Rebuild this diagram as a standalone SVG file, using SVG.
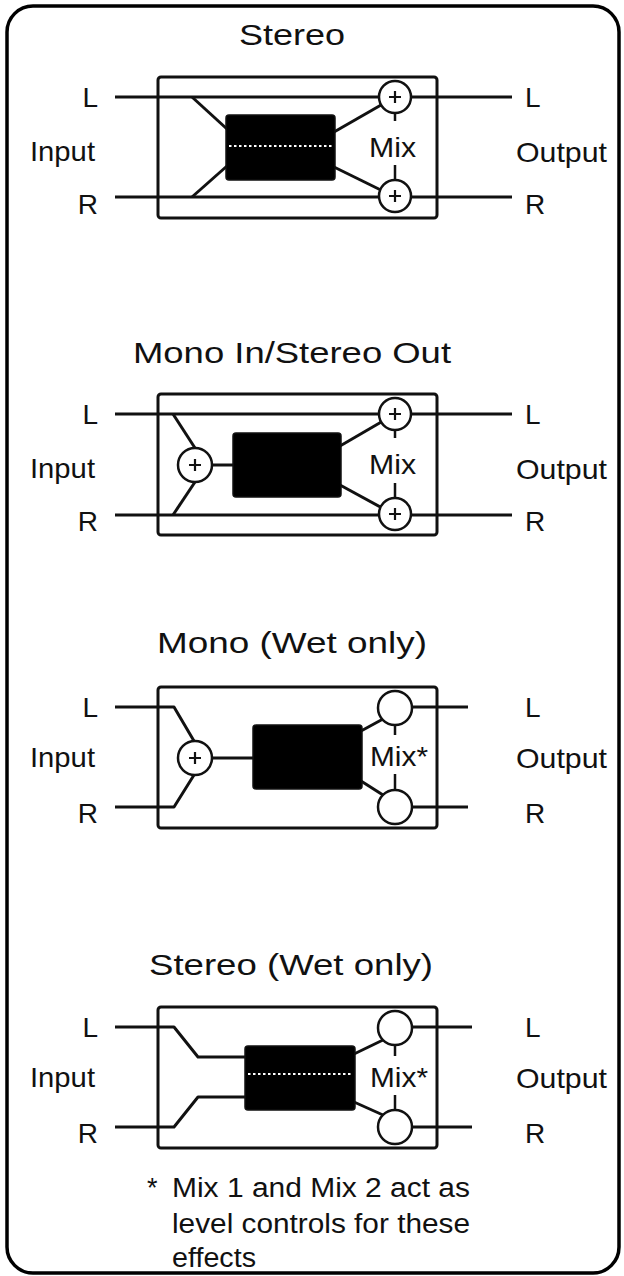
<svg xmlns="http://www.w3.org/2000/svg" width="624" height="1276" viewBox="0 0 624 1276">
<defs>
<style>
text{font-family:"Liberation Sans",Arial,Helvetica,sans-serif;fill:#111}
.ttl{font-size:30px;text-anchor:middle}
.lbl{font-size:28px}
.end{text-anchor:end}
.fn{font-size:27px}
.ln{fill:none;stroke:#111;stroke-width:3;stroke-linejoin:round}
.frame{fill:none;stroke:#111;stroke-width:3}
.blk{fill:#000;stroke:#111;stroke-width:1.5}
.dots{fill:none;stroke:#fff;stroke-width:2;stroke-dasharray:2.5 2.5}
.cir{fill:#fff;stroke:#111;stroke-width:2.5}
.pl{fill:none;stroke:#111;stroke-width:2.2}
.tick{fill:none;stroke:#111;stroke-width:2.5}
</style>
</defs>
<rect x="0" y="0" width="624" height="1276" fill="#fff"/>
<rect id="border" x="7" y="6" width="612" height="1267" rx="26" fill="none" stroke="#000" stroke-width="3.5"/>

<!-- Section 1: Stereo -->
<g id="stereo">
  <text class="ttl" x="292" y="45" textLength="106" lengthAdjust="spacingAndGlyphs">Stereo</text>
  <g id="s1-labels">
    <text class="lbl end" x="98" y="107">L</text>
    <text class="lbl end" x="98" y="214">R</text>
    <text class="lbl" x="30" y="161" textLength="65" lengthAdjust="spacingAndGlyphs">Input</text>
    <text class="lbl" x="525" y="107">L</text>
    <text class="lbl" x="525" y="214">R</text>
    <text class="lbl" x="516" y="162" textLength="91" lengthAdjust="spacingAndGlyphs">Output</text>
  </g>
  <rect id="s1-frame" class="frame" x="158" y="77" width="279" height="141" rx="3"/>
  <g id="s1-connectors">
    <path class="ln" d="M115,97 H512"/>
    <path class="ln" d="M115,197 H512"/>
    <path class="ln" d="M192,97 L227,129"/>
    <path class="ln" d="M192,197 L227,166"/>
    <path class="ln" d="M334,132 L395,97"/>
    <path class="ln" d="M334,167 L395,197"/>
    <path class="tick" d="M395,112 V121 M395,165 V181"/>
  </g>
  <g id="s1-effect">
    <rect class="blk" x="226" y="115" width="109" height="65" rx="3"/>
    <path class="dots" d="M229,146 H333"/>
  </g>
  <g id="s1-mix1"><circle class="cir" cx="395" cy="97" r="16"/><path class="pl" d="M389,97 H401 M395,91 V103"/></g>
  <g id="s1-mix2"><circle class="cir" cx="395" cy="196" r="16"/><path class="pl" d="M389,196 H401 M395,190 V202"/></g>
  <text class="lbl" x="369" y="157" textLength="47" lengthAdjust="spacingAndGlyphs">Mix</text>
</g>

<!-- Section 2: Mono In/Stereo Out -->
<g id="mono-in-stereo-out" transform="translate(0,317)">
  <text class="ttl" x="292" y="46" textLength="318" lengthAdjust="spacingAndGlyphs">Mono In/Stereo Out</text>
  <g id="s2-labels">
    <text class="lbl end" x="98" y="107">L</text>
    <text class="lbl end" x="98" y="214">R</text>
    <text class="lbl" x="30" y="161" textLength="65" lengthAdjust="spacingAndGlyphs">Input</text>
    <text class="lbl" x="525" y="107">L</text>
    <text class="lbl" x="525" y="214">R</text>
    <text class="lbl" x="516" y="162" textLength="91" lengthAdjust="spacingAndGlyphs">Output</text>
  </g>
  <rect id="s2-frame" class="frame" x="158" y="77" width="279" height="141" rx="3"/>
  <g id="s2-connectors">
    <path class="ln" d="M115,97 H512"/>
    <path class="ln" d="M115,198 H512"/>
    <path class="ln" d="M173,97 L195,131"/>
    <path class="ln" d="M173,198 L195,165"/>
    <path class="ln" d="M212,148 H234"/>
    <path class="ln" d="M340,129 L395,97"/>
    <path class="ln" d="M340,168 L395,198"/>
    <path class="tick" d="M395,112 V121 M395,166 V182"/>
  </g>
  <g id="s2-sum"><circle class="cir" cx="195" cy="148" r="17"/><path class="pl" d="M189,148 H201 M195,142 V154"/></g>
  <g id="s2-effect"><rect class="blk" x="233" y="116" width="108" height="64" rx="3"/></g>
  <g id="s2-mix1"><circle class="cir" cx="395" cy="97" r="16"/><path class="pl" d="M389,97 H401 M395,91 V103"/></g>
  <g id="s2-mix2"><circle class="cir" cx="395" cy="197" r="16"/><path class="pl" d="M389,197 H401 M395,191 V203"/></g>
  <text class="lbl" x="369" y="157" textLength="47" lengthAdjust="spacingAndGlyphs">Mix</text>
</g>

<!-- Section 3: Mono (Wet only) -->
<g id="mono-wet-only" transform="translate(0,610)">
  <text class="ttl" x="292" y="43" textLength="270" lengthAdjust="spacingAndGlyphs">Mono (Wet only)</text>
  <g id="s3-labels">
    <text class="lbl end" x="98" y="107">L</text>
    <text class="lbl end" x="98" y="213">R</text>
    <text class="lbl" x="30" y="157" textLength="65" lengthAdjust="spacingAndGlyphs">Input</text>
    <text class="lbl" x="525" y="107">L</text>
    <text class="lbl" x="525" y="213">R</text>
    <text class="lbl" x="516" y="158" textLength="91" lengthAdjust="spacingAndGlyphs">Output</text>
  </g>
  <rect id="s3-frame" class="frame" x="158" y="77" width="279" height="141" rx="3"/>
  <g id="s3-connectors">
    <path class="ln" d="M115,97 H174 L194,131"/>
    <path class="ln" d="M115,197 H174 L194,165"/>
    <path class="ln" d="M212,148 H254"/>
    <path class="ln" d="M361,121 L383,109"/>
    <path class="ln" d="M361,171 L383,185"/>
    <path class="ln" d="M395,97 H468"/>
    <path class="ln" d="M395,197 H468"/>
    <path class="tick" d="M395,114 V125 M395,164 V180"/>
  </g>
  <g id="s3-sum"><circle class="cir" cx="195" cy="148" r="17"/><path class="pl" d="M189,148 H201 M195,142 V154"/></g>
  <g id="s3-effect"><rect class="blk" x="253" y="115" width="109" height="64" rx="3"/></g>
  <g id="s3-mix1"><circle class="cir" cx="395" cy="98" r="17"/></g>
  <g id="s3-mix2"><circle class="cir" cx="395" cy="197" r="17"/></g>
  <text class="lbl" x="370" y="156" textLength="58" lengthAdjust="spacingAndGlyphs">Mix*</text>
</g>

<!-- Section 4: Stereo (Wet only) -->
<g id="stereo-wet-only" transform="translate(0,930)">
  <text class="ttl" x="291" y="45" textLength="284" lengthAdjust="spacingAndGlyphs">Stereo (Wet only)</text>
  <g id="s4-labels">
    <text class="lbl end" x="98" y="107">L</text>
    <text class="lbl end" x="98" y="213">R</text>
    <text class="lbl" x="30" y="157" textLength="65" lengthAdjust="spacingAndGlyphs">Input</text>
    <text class="lbl" x="525" y="107">L</text>
    <text class="lbl" x="525" y="213">R</text>
    <text class="lbl" x="516" y="158" textLength="91" lengthAdjust="spacingAndGlyphs">Output</text>
  </g>
  <rect id="s4-frame" class="frame" x="158" y="77" width="279" height="141" rx="3"/>
  <g id="s4-connectors">
    <path class="ln" d="M115,97 H174 L198,127 H246"/>
    <path class="ln" d="M115,197 H174 L198,167 H246"/>
    <path class="ln" d="M354,124 L383,110"/>
    <path class="ln" d="M354,172 L383,185"/>
    <path class="ln" d="M395,97 H472"/>
    <path class="ln" d="M395,197 H472"/>
    <path class="tick" d="M395,114 V126 M395,165 V180"/>
  </g>
  <g id="s4-effect">
    <rect class="blk" x="245" y="116" width="110" height="64" rx="3"/>
    <path class="dots" d="M248,144 H353"/>
  </g>
  <g id="s4-mix1"><circle class="cir" cx="395" cy="98" r="17"/></g>
  <g id="s4-mix2"><circle class="cir" cx="395" cy="197" r="17"/></g>
  <text class="lbl" x="370" y="157" textLength="58" lengthAdjust="spacingAndGlyphs">Mix*</text>
</g>

<g id="footnote">
  <text class="fn" x="147" y="1197">*</text>
  <text class="fn" x="172" y="1197" textLength="298" lengthAdjust="spacingAndGlyphs">Mix 1 and Mix 2 act as</text>
  <text class="fn" x="172" y="1233" textLength="298" lengthAdjust="spacingAndGlyphs">level controls for these</text>
  <text class="fn" x="172" y="1267" textLength="84" lengthAdjust="spacingAndGlyphs">effects</text>
</g>
</svg>
